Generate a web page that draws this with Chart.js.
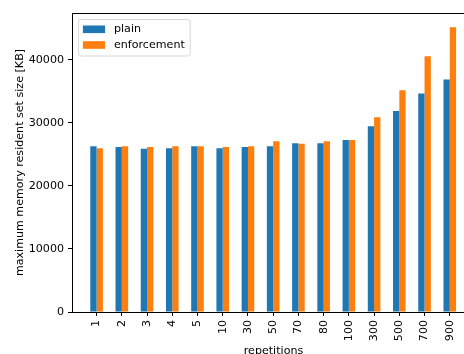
<!DOCTYPE html>
<html>
<head>
<meta charset="utf-8">
<script src="https://cdn.jsdelivr.net/npm/chart.js@4.4.1/dist/chart.umd.min.js"></script>
<style>
  html, body { margin: 0; padding: 0; background: #fff; }
  #wrap { width: 464px; height: 354px; overflow: hidden; position: relative; }
  canvas { display: block; }
</style>
</head>
<body>
<div id="wrap"><canvas id="c" width="480" height="360"></canvas></div>
<script>
// Peak RSS per number of repetitions, with and without enforcement
const repetitions = ['1', '2', '3', '4', '5', '10', '30', '50', '70', '80', '100', '300', '500', '700', '900'];
const plainKB = [26300, 26200, 25900, 26000, 26300, 26000, 26200, 26300, 26800, 26800, 27300, 29500, 31900, 34700, 36900];
const enforcementKB = [26000, 26300, 26200, 26300, 26300, 26200, 26300, 27100, 26700, 27100, 27300, 30900, 35200, 40600, 45200];
const seriesNames = ['plain', 'enforcement'];
const yTicks = [0, 10000, 20000, 30000, 40000];
const yRange = [0, 47460];
const xLimits = [-0.975, 15.0];

const FONT = 'DejaVu Sans';
const FS = 11.1;
Chart.defaults.font.family = FONT;
Chart.defaults.font.size = FS;
Chart.defaults.color = '#000';

const toPoints = (vals) => vals.map((v, i) => ({ x: i, y: v }));

// Boxed legend in the upper-left corner of the plot area
const boxedLegend = {
  id: 'boxedLegend',
  afterDraw(chart) {
    const ctx = chart.ctx;
    const area = chart.chartArea;
    const fx = Math.round(area.left + 5.5) + 0.5;
    const fy = Math.round(area.top + 5.5) + 0.5;
    const pad = 4.4, hl = 22.2, hh = 7.6, gap = 8.9, rowStep = 15.7;
    ctx.save();
    ctx.font = FS + 'px "' + FONT + '"';
    const items = chart.data.datasets;
    let tw = 0;
    items.forEach(d => { tw = Math.max(tw, ctx.measureText(d.label).width); });
    const w = pad + hl + gap + tw + pad + 1;
    const h = 36.5;
    const r = 2.5;
    ctx.beginPath();
    ctx.moveTo(fx + r, fy);
    ctx.lineTo(fx + w - r, fy);
    ctx.arcTo(fx + w, fy, fx + w, fy + r, r);
    ctx.lineTo(fx + w, fy + h - r);
    ctx.arcTo(fx + w, fy + h, fx + w - r, fy + h, r);
    ctx.lineTo(fx + r, fy + h);
    ctx.arcTo(fx, fy + h, fx, fy + h - r, r);
    ctx.lineTo(fx, fy + r);
    ctx.arcTo(fx, fy, fx + r, fy, r);
    ctx.closePath();
    ctx.fillStyle = 'rgba(255,255,255,0.8)';
    ctx.fill();
    ctx.strokeStyle = 'rgba(204,204,204,0.8)';
    ctx.lineWidth = 1;
    ctx.stroke();
    ctx.textBaseline = 'middle';
    ctx.textAlign = 'left';
    items.forEach((d, i) => {
      const cy = fy + 9.8 + i * rowStep;
      ctx.fillStyle = d.backgroundColor;
      ctx.fillRect(fx + pad, cy - hh / 2, hl, hh);
      ctx.fillStyle = '#000';
      ctx.fillText(d.label, fx + pad + hl + gap, cy);
    });
    ctx.restore();
  }
};

new Chart(document.getElementById('c'), {
  type: 'bar',
  data: {
    datasets: [
      { label: seriesNames[0], data: toPoints(plainKB), backgroundColor: '#1f77b4', borderWidth: 0 },
      { label: seriesNames[1], data: toPoints(enforcementKB), backgroundColor: '#ff7f0e', borderWidth: 0 }
    ]
  },
  options: {
    responsive: false,
    devicePixelRatio: 1,
    animation: false,
    categoryPercentage: 0.5,
    barPercentage: 1.0,
    layout: { padding: { left: 0, top: 13, right: 5, bottom: 0 } },
    plugins: { legend: { display: false }, tooltip: { enabled: false } },
    scales: {
      x: {
        type: 'linear',
        position: 'bottom',
        offset: false,
        min: xLimits[0],
        max: xLimits[1],
        afterFit(s) { s.height = 48; },
        afterBuildTicks(s) { s.ticks = repetitions.map((_, i) => ({ value: i })); },
        grid: { display: true, offset: false, drawOnChartArea: false, drawTicks: true, tickLength: 4, color: '#000', lineWidth: 1 },
        border: { display: true, color: '#000', width: 1 },
        ticks: {
          autoSkip: false,
          minRotation: 90,
          maxRotation: 90,
          padding: 4,
          color: '#000',
          callback: (v, i) => repetitions[i]
        },
        title: { display: true, text: 'repetitions', color: '#000', font: { size: FS }, padding: { top: 0, bottom: 2.3 } }
      },
      x2: {
        type: 'linear',
        position: 'top',
        offset: false,
        min: xLimits[0],
        max: xLimits[1],
        afterFit(s) { s.height = 0; },
        grid: { display: false, drawTicks: false },
        border: { display: true, color: '#000', width: 1 },
        ticks: { display: false }
      },
      y: {
        type: 'linear',
        position: 'left',
        min: yRange[0],
        max: yRange[1],
        afterFit(s) { s.width = 72; },
        afterBuildTicks(s) { s.ticks = yTicks.map(v => ({ value: v })); },
        grid: { display: true, drawOnChartArea: false, drawTicks: true, tickLength: 4, color: '#000', lineWidth: 1 },
        border: { display: true, color: '#000', width: 1 },
        ticks: {
          padding: 4,
          color: '#000',
          callback: (v) => String(v)
        },
        title: { display: true, text: 'maximum memory resident set size [KB]', color: '#000', font: { size: FS }, padding: { top: 13.5, bottom: 0 } }
      },
      y2: {
        type: 'linear',
        position: 'right',
        min: yRange[0],
        max: yRange[1],
        afterFit(s) { s.width = 0; },
        grid: { display: false, drawTicks: false },
        border: { display: true, color: '#000', width: 1 },
        ticks: { display: false }
      }
    }
  },
  plugins: [boxedLegend]
});
</script>
</body>
</html>
